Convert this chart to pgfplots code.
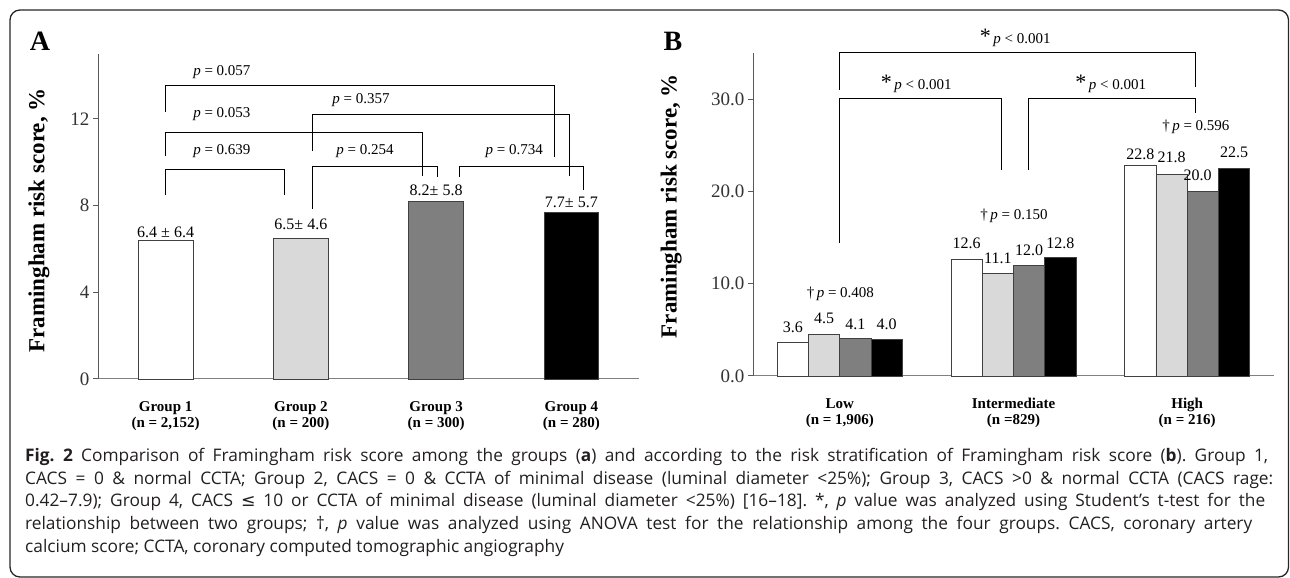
\documentclass[border=0pt]{standalone}
\usepackage{pgfplots}
\pgfplotsset{compat=1.18}
\usepackage{fontspec}
\setmainfont{Liberation Serif}
\newfontfamily\capfont{Open Sans}
\newfontfamily\symfont{DejaVu Sans}
\definecolor{lgray}{HTML}{D9D9D9}
\definecolor{mgray}{HTML}{7F7F7F}
\definecolor{edge}{HTML}{404040}
\definecolor{axisc}{HTML}{595959}
\definecolor{xaxisc}{HTML}{808080}
\definecolor{tickc}{HTML}{333333}
\definecolor{capc}{HTML}{231F20}
\tikzset{
  val/.style={font=\fontsize{16}{16}\selectfont, inner sep=0pt},
  pv/.style={font=\fontsize{15}{15}\selectfont, inner sep=0pt},
  br/.style={line width=0.95pt, black},
}
\newcommand{\peq}[1]{\textit{p} = #1}
\newcommand{\sig}{{\fontsize{22}{22}\selectfont *}\,\textit{p} < 0.001}
\newcommand{\dg}[1]{†\,\textit{p} = #1}
\pgfplotsset{
  common/.style={
    scale only axis, anchor=south west, clip=false,
    axis x line=bottom, axis y line=left,
    axis line style={-},
    x axis line style={xaxisc, line width=1pt},
    y axis line style={axisc, line width=1pt},
    tick align=outside, major tick length=5pt,
    ytick style={axisc, line width=1pt},
    xtick style={draw=none},
    xticklabel style={align=center, font=\fontsize{15}{16}\selectfont\bfseries, text=black, yshift=-14pt},
    yticklabel style={font=\fontsize{19}{19}\selectfont, text=tickc},
    ylabel={Framingham risk score, \%},
  }
}
\begin{document}
\frenchspacing
\begin{tikzpicture}[x=1pt,y=1pt]
\path[use as bounding box] (0,0) rectangle (1290,578);
\draw[line width=1.3pt, rounded corners=10pt, color=black!85] (10,1) rectangle (1288.5,568);

\node[font=\fontsize{28}{28}\selectfont\bfseries] at (40,537) {A};
\node[font=\fontsize{28}{28}\selectfont\bfseries] at (673,537) {B};

% ---------------- Panel A
\begin{axis}[common,
  at={(98pt,199pt)}, width=541pt, height=325pt,
  xmin=-0.5, xmax=3.5, ymin=0, ymax=15,
  ytick={0,4,8,12}, yticklabels={0,4,8,12},
  xtick={0,1,2,3},
  xticklabels={{Group 1\\(n = 2,152)},{Group 2\\(n = 200)},{Group 3\\(n = 300)},{Group 4\\(n = 280)}},
  ylabel style={font=\fontsize{23}{23}\selectfont\bfseries, at={(axis description cs:-0.109,0.488)}, anchor=center},
]
\addplot[ybar, bar width=54.6pt, bar shift=0pt, fill=white, draw=edge, line width=0.8pt] coordinates {(0,6.4)};
\addplot[ybar, bar width=54.6pt, bar shift=0pt, fill=lgray, draw=edge, line width=0.8pt] coordinates {(1,6.5)};
\addplot[ybar, bar width=54.6pt, bar shift=0pt, fill=mgray, draw=edge, line width=0.8pt] coordinates {(2,8.2)};
\addplot[ybar, bar width=54.6pt, bar shift=0pt, fill=black, draw=edge, line width=0.8pt] coordinates {(3,7.7)};
\node[val] at (axis cs:0,6.78) {6.4 ± 6.4};
\node[val] at (axis cs:1,7.15) {6.5± 4.6};
\node[val] at (axis cs:2,8.72) {8.2± 5.8};
\node[val] at (axis cs:3,8.14) {7.7± 5.7};
% brackets
\draw[br] (axis cs:0,8.49) |- (axis cs:0.88,9.69) -- (axis cs:0.88,8.49);
\node[pv] at (axis cs:0.416,10.52) {\peq{0.639}};
\draw[br] (axis cs:1.088,7.85) |- (axis cs:2.008,9.83) -- (axis cs:2.008,9.32);
\node[pv] at (axis cs:1.474,10.52) {\peq{0.254}};
\draw[br] (axis cs:2.171,9.32) |- (axis cs:3.093,9.83) -- (axis cs:3.093,8.72);
\node[pv] at (axis cs:2.578,10.52) {\peq{0.734}};
\draw[br] (axis cs:0,10.29) |- (axis cs:1.90,11.40) -- (axis cs:1.90,9.37);
\node[pv] at (axis cs:0.416,12.23) {\peq{0.053}};
\draw[br] (axis cs:1.088,10.52) |- (axis cs:2.983,12.23) -- (axis cs:2.983,9.37);
\node[pv] at (axis cs:1.444,12.88) {\peq{0.357}};
\draw[br] (axis cs:0,12.32) |- (axis cs:2.876,13.57) -- (axis cs:2.876,10.24);
\node[pv] at (axis cs:0.416,14.17) {\peq{0.057}};
\end{axis}

% ---------------- Panel B
\begin{axis}[common,
  at={(753pt,202pt)}, width=521pt, height=323pt,
  xmin=-0.5, xmax=2.5, ymin=0, ymax=35,
  ytick={0,10,20,30}, yticklabels={0.0,10.0,20.0,30.0},
  xtick={0,1,2},
  xticklabels={{Low\\(n = 1,906)},{Intermediate\\(n =829)},{High\\(n = 216)}},
  ylabel style={font=\fontsize{23}{23}\selectfont\bfseries, at={(axis description cs:-0.157,0.526)}, anchor=center},
]
\addplot[ybar, bar width=31.2pt, bar shift=-46.8pt, fill=white, draw=edge, line width=0.8pt] coordinates {(0,3.6) (1,12.6) (2,22.8)};
\addplot[ybar, bar width=31.2pt, bar shift=-15.6pt, fill=lgray, draw=edge, line width=0.8pt] coordinates {(0,4.5) (1,11.1) (2,21.8)};
\addplot[ybar, bar width=31.2pt, bar shift=15.6pt, fill=mgray, draw=edge, line width=0.8pt] coordinates {(0,4.1) (1,12.0) (2,20.0)};
\addplot[ybar, bar width=31.2pt, bar shift=46.8pt, fill=black, draw=edge, line width=0.8pt] coordinates {(0,4.0) (1,12.8) (2,22.5)};
\node[val] at (axis cs:-0.27,5.3) {3.6};
\node[val] at (axis cs:-0.09,6.3) {4.5};
\node[val] at (axis cs:0.09,5.6) {4.1};
\node[val] at (axis cs:0.27,5.6) {4.0};
\node[val] at (axis cs:0.73,14.4) {12.6};
\node[val] at (axis cs:0.91,12.7) {11.1};
\node[val] at (axis cs:1.09,13.65) {12.0};
\node[val] at (axis cs:1.27,14.4) {12.8};
\node[val] at (axis cs:1.73,24.05) {22.8};
\node[val] at (axis cs:1.91,23.7) {21.8};
\node[val] at (axis cs:2.06,21.8) {20.0};
\node[val] at (axis cs:2.27,24.2) {22.5};
\node[pv] at (axis cs:0.003,8.9) {\dg{0.408}};
\node[pv] at (axis cs:1.003,17.3) {\dg{0.150}};
\node[pv] at (axis cs:2.05,27.0) {\dg{0.596}};
\draw[br] (axis cs:0,14.4) |- (axis cs:0.93,30.1) -- (axis cs:0.93,22.3);
\node[pv] at (axis cs:0.44,31.7) {\sig};
\draw[br] (axis cs:1.087,22.3) |- (axis cs:2.047,30.1) -- (axis cs:2.047,28.5);
\node[pv] at (axis cs:1.56,31.7) {\sig};
\draw[br] (axis cs:0,31.0) |- (axis cs:2.047,35.1) -- (axis cs:2.047,31.3);
\node[pv] at (axis cs:1.01,36.6) {\sig};
\end{axis}

% ---------------- Caption
\node[anchor=north west, inner sep=0pt, align=left, text=capc,
      font=\capfont\fontsize{17.3}{22.75}\selectfont] at (25pt,130pt) {%
\makebox[1243pt][s]{\textbf{Fig. 2} Comparison of Framingham risk score among the groups (\textbf{a}) and according to the risk stratification of Framingham risk score (\textbf{b}). Group 1,}\\
\makebox[1248pt][s]{CACS = 0 \& normal CCTA; Group 2, CACS = 0 \& CCTA of minimal disease (luminal diameter <25\%); Group 3, CACS >0 \& normal CCTA (CACS rage:}\\
\makebox[1240pt][s]{0.42–7.9); Group 4, CACS {\symfont ≤} 10 or CCTA of minimal disease (luminal diameter <25\%) [16–18]. *, \textit{p} value was analyzed using Student’s t-test for the}\\
\makebox[1227pt][s]{relationship between two groups; †, \textit{p} value was analyzed using ANOVA test for the relationship among the four groups. CACS, coronary artery}\\
calcium score; CCTA, coronary computed tomographic angiography};
\end{tikzpicture}
\end{document}
